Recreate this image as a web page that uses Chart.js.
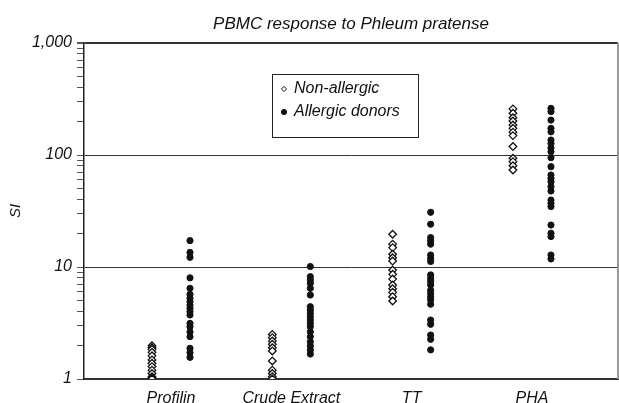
<!DOCTYPE html>
<html>
<head>
<meta charset="utf-8">
<script src="https://cdn.jsdelivr.net/npm/chart.js@4.4.1/dist/chart.umd.min.js"></script>
<style>
  body { margin: 0; background: #fff; }
</style>
</head>
<body>
<canvas id="siChart" width="619" height="403"></canvas>
<script>
const categories = ['Profilin', 'Crude Extract', 'TT', 'PHA'];
const seriesNames = ['Non-allergic', 'Allergic donors'];
const yTickLabels = [1, 10, 100, 1000];

// SI values per category
const profilinNon = [1.98, 1.9, 1.84, 1.73, 1.61, 1.48, 1.38, 1.29, 1.2, 1.12, 1.05, 1.02, 1.0];
const profilinAll = [17.2, 13.5, 12.2, 8.0, 6.45, 5.7, 5.25, 4.9, 4.57, 4.27, 3.99, 3.73, 3.14, 2.93, 2.64, 2.39, 1.88, 1.72, 1.56];
const crudeNon = [2.5, 2.34, 2.18, 2.04, 1.9, 1.78, 1.45, 1.2, 1.12, 1.05, 1.0];
const crudeAll = [10.1, 8.2, 7.65, 7.15, 6.45, 5.62, 4.42, 4.13, 3.86, 3.6, 3.36, 3.14, 2.93, 2.64, 2.39, 2.15, 1.97, 1.81, 1.67];
const ttNon = [19.6, 16, 14.9, 13, 12.1, 11.3, 9.4, 8.6, 7.8, 6.9, 6.4, 5.94, 5.43, 4.97];
const ttAll = [30.8, 24.1, 18.3, 17.1, 16, 12.8, 11.9, 11.2, 8.5, 7.9, 7.4, 6.9, 6.2, 5.8, 5.4, 5.1, 4.65, 3.36, 3.08, 2.47, 2.26, 1.82];
const phaNon = [258, 236, 215, 201, 185, 173, 160, 149, 119, 93.5, 87.2, 80.2, 73.5];
const phaAll = [261, 244, 205, 173, 161, 136, 127, 116, 107, 94.6, 78.6, 66.3, 61.9, 57.8, 52.1, 47.7, 39.6, 37, 34.6, 23.7, 20, 18.7, 12.8, 11.8];

const nonAllergic = [profilinNon, crudeNon, ttNon, phaNon];
const allergic = [profilinAll, crudeAll, ttAll, phaAll];

function toPoints(groups, shift) {
  const pts = [];
  groups.forEach((vals, i) => {
    vals.forEach((v) => pts.push({ x: i + 1 + shift, y: v }));
  });
  return pts;
}

Chart.defaults.font.family = '"Liberation Sans", Arial, sans-serif';
Chart.defaults.font.style = 'italic';
Chart.defaults.color = '#111';

const titlePlugin = {
  id: 'plotTitle',
  afterDraw(chart) {
    const { ctx, chartArea } = chart;
    ctx.save();
    ctx.font = 'italic 17px "Liberation Sans", Arial, sans-serif';
    ctx.fillStyle = '#111';
    ctx.textAlign = 'center';
    ctx.textBaseline = 'middle';
    ctx.fillText('PBMC response to Phleum pratense', (chartArea.left + chartArea.right) / 2, 24);
    // right frame
    ctx.strokeStyle = '#9a9a9a';
    ctx.lineWidth = 2;
    ctx.beginPath();
    ctx.moveTo(chartArea.right, chartArea.top);
    ctx.lineTo(chartArea.right, chartArea.bottom);
    ctx.stroke();
    ctx.restore();
  }
};

const legendBox = {
  id: 'legendBox',
  afterDraw(chart) {
    const { ctx, chartArea } = chart;
    const x = chartArea.left + 188, y = chartArea.top + 31, w = 146, h = 63;
    ctx.save();
    ctx.strokeStyle = '#222';
    ctx.lineWidth = 1;
    ctx.strokeRect(x + 0.5, y + 0.5, w, h);
    chart.data.datasets.forEach((ds, i) => {
      const cy = y + 15 + i * 23;
      ctx.fillStyle = ds.backgroundColor;
      ctx.strokeStyle = ds.borderColor;
      ctx.lineWidth = 1;
      Chart.helpers.drawPoint(ctx, { pointStyle: ds.pointStyle, radius: 2.6, borderWidth: 1 }, x + 12, cy);
      ctx.fillStyle = '#111';
      ctx.font = 'italic 16px "Liberation Sans", Arial, sans-serif';
      ctx.textBaseline = 'middle';
      ctx.fillText(ds.label, x + 22, cy);
    });
    ctx.restore();
  }
};

const ctx = document.getElementById('siChart').getContext('2d');
const siChart = new Chart(ctx, {
  type: 'scatter',
  data: {
    datasets: [
      {
        label: seriesNames[0],
        data: toPoints(nonAllergic, -0.158),
        pointStyle: 'rectRot',
        pointRadius: 3.8,
        backgroundColor: '#ffffff',
        borderColor: '#111',
        borderWidth: 1.3,
      },
      {
        label: seriesNames[1],
        data: toPoints(allergic, 0.158),
        pointStyle: 'circle',
        pointRadius: 3.1,
        backgroundColor: '#111',
        borderColor: '#111',
        borderWidth: 1,
      },
    ],
  },
  options: {
    responsive: false,
    devicePixelRatio: 1,
    animation: false,
    layout: { autoPadding: false, padding: { top: 43, right: 1, left: 0, bottom: 0 } },
    plugins: {
      legend: { display: false },
      tooltip: { enabled: false },
      title: { display: false },
    },
    scales: {
      x: {
        type: 'linear',
        min: 0.277,
        max: 4.715,
        afterBuildTicks: (scale) => {
          scale.ticks = categories.map((c, i) => ({ value: i + 1 }));
        },
        afterFit: (scale) => { scale.height = 24; },
        ticks: {
          callback: (v) => categories[v - 1],
          font: { size: 16, style: 'italic' },
          color: '#111',
          padding: 2,
          maxRotation: 0,
        },
        grid: { display: false },
        border: { display: true, color: '#333', width: 2 },
      },
      y: {
        type: 'logarithmic',
        min: 1,
        max: 1000,
        afterBuildTicks: (scale) => {
          const t = [];
          for (let d = 1; d < 1000; d *= 10) {
            for (let m = 1; m < 10; m++) t.push({ value: m * d });
          }
          t.push({ value: 1000 });
          scale.ticks = t;
        },
        afterFit: (scale) => { scale.width = 84; },
        ticks: {
          autoSkip: false,
          callback: (v) => (yTickLabels.includes(v) ? v.toLocaleString('en-US') : ''),
          font: { size: 16, style: 'italic' },
          color: '#111',
          padding: 5,
        },
        grid: {
          color: (c) => (c.tick && yTickLabels.includes(c.tick.value) && c.tick.value !== 1 ? '#333' : 'transparent'),
          lineWidth: (c) => (c.tick && c.tick.value === 1000 ? 2 : 1),
          tickColor: '#555',
          tickLength: 7,
        },
        border: { display: true, color: '#222', width: 1.5 },
        title: {
          display: true,
          text: 'SI',
          font: { size: 15, style: 'italic' },
          color: '#111',
          padding: { top: 7, bottom: 0 },
        },
      },
    },
  },
  plugins: [titlePlugin, legendBox],
});
</script>
</body>
</html>
